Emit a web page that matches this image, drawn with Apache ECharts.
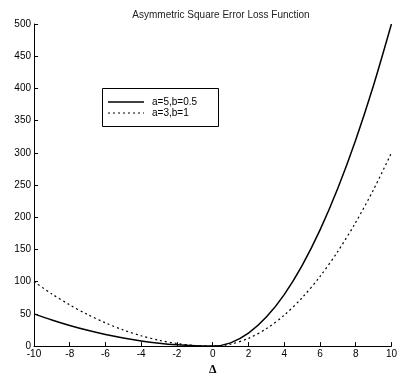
<!DOCTYPE html>
<html>
<head>
<meta charset="utf-8">
<script src="https://cdn.jsdelivr.net/npm/echarts@6/dist/echarts.min.js"></script>
<style>
  html, body { margin: 0; padding: 0; background: #fff; }
  #chart { width: 400px; height: 381px; }
</style>
</head>
<body>
<div id="chart"></div>
<script>
// Error values Δ and the loss of each parameter set at each Δ
const deltas = [-10, -9, -8, -7, -6, -5, -4, -3, -2, -1, 0, 1, 2, 3, 4, 5, 6, 7, 8, 9, 10];
const lossA5B05 = [50, 40.5, 32, 24.5, 18, 12.5, 8, 4.5, 2, 0.5, 0, 5, 20, 45, 80, 125, 180, 245, 320, 405, 500];
const lossA3B1 = [100, 81, 64, 49, 36, 25, 16, 9, 4, 1, 0, 3, 12, 27, 48, 75, 108, 147, 192, 243, 300];
const seriesNames = ['a=5,b=0.5', 'a=3,b=1'];
const titleText = 'Asymmetric Square Error Loss Function';

const font = '"Liberation Sans", Arial, sans-serif';
const pairs = (ys) => deltas.map((x, i) => [x, ys[i]]);

const solidStyle = { color: '#000', width: 1.5, type: 'solid' };
const dottedStyle = { color: '#000', width: 1.2, type: [2, 3] };

// Boxed key: a line sample and a label for each curve
const keyBox = { x: 102, y: 88, w: 116, h: 38 };
const keyRows = [
  { name: seriesNames[0], style: solidStyle, dy: 14 },
  { name: seriesNames[1], style: dottedStyle, dy: 25 }
];
const keyGraphics = [{
  type: 'rect',
  shape: { x: keyBox.x + 0.5, y: keyBox.y + 0.5, width: keyBox.w, height: keyBox.h },
  style: { fill: '#fff', stroke: '#000', lineWidth: 1 },
  z: 10
}];
keyRows.forEach(r => {
  const y = keyBox.y + r.dy;
  keyGraphics.push({
    type: 'line',
    shape: { x1: keyBox.x + 6, y1: y, x2: keyBox.x + 42, y2: y },
    style: { stroke: r.style.color, lineWidth: r.style.width, lineDash: r.style.type === 'solid' ? null : r.style.type },
    z: 11
  });
  keyGraphics.push({
    type: 'text',
    x: keyBox.x + 50, y: y,
    style: { text: r.name, font: '10px ' + font, fill: '#000', textVerticalAlign: 'middle' },
    z: 11
  });
});

const chart = echarts.init(document.getElementById('chart'), null, { renderer: 'canvas' });
chart.setOption({
  animation: false,
  backgroundColor: '#fff',
  title: {
    text: titleText,
    left: 216, top: 5,
    textAlign: 'center',
    textStyle: { fontFamily: font, fontSize: 10, fontWeight: 'normal', color: '#222' }
  },
  grid: { left: 34, right: 3, top: 24, bottom: 28, containLabel: false },
  graphic: keyGraphics,
  xAxis: {
    type: 'value', min: -10, max: 10, interval: 2,
    name: 'Δ', nameLocation: 'middle', nameGap: 12,
    nameTextStyle: { fontFamily: '"Liberation Serif", serif', fontSize: 12, fontWeight: 'bold', color: '#000' },
    axisLine: { onZero: false, lineStyle: { color: '#000', width: 1 } },
    axisTick: { inside: true, length: 4, lineStyle: { color: '#000' } },
    axisLabel: { fontFamily: font, fontSize: 10, color: '#000', margin: 3 },
    splitLine: { show: false }
  },
  yAxis: {
    type: 'value', min: 0, max: 500, interval: 50,
    axisLine: { show: true, onZero: false, lineStyle: { color: '#000', width: 1 } },
    axisTick: { show: true, inside: true, length: 4, lineStyle: { color: '#000' } },
    axisLabel: { fontFamily: font, fontSize: 10, color: '#000', margin: 3 },
    splitLine: { show: false }
  },
  series: [
    {
      name: seriesNames[0], type: 'line', data: pairs(lossA5B05),
      symbol: 'none', smooth: 0.3,
      lineStyle: solidStyle
    },
    {
      name: seriesNames[1], type: 'line', data: pairs(lossA3B1),
      symbol: 'none', smooth: 0.3,
      lineStyle: dottedStyle
    }
  ]
});
</script>
</body>
</html>
